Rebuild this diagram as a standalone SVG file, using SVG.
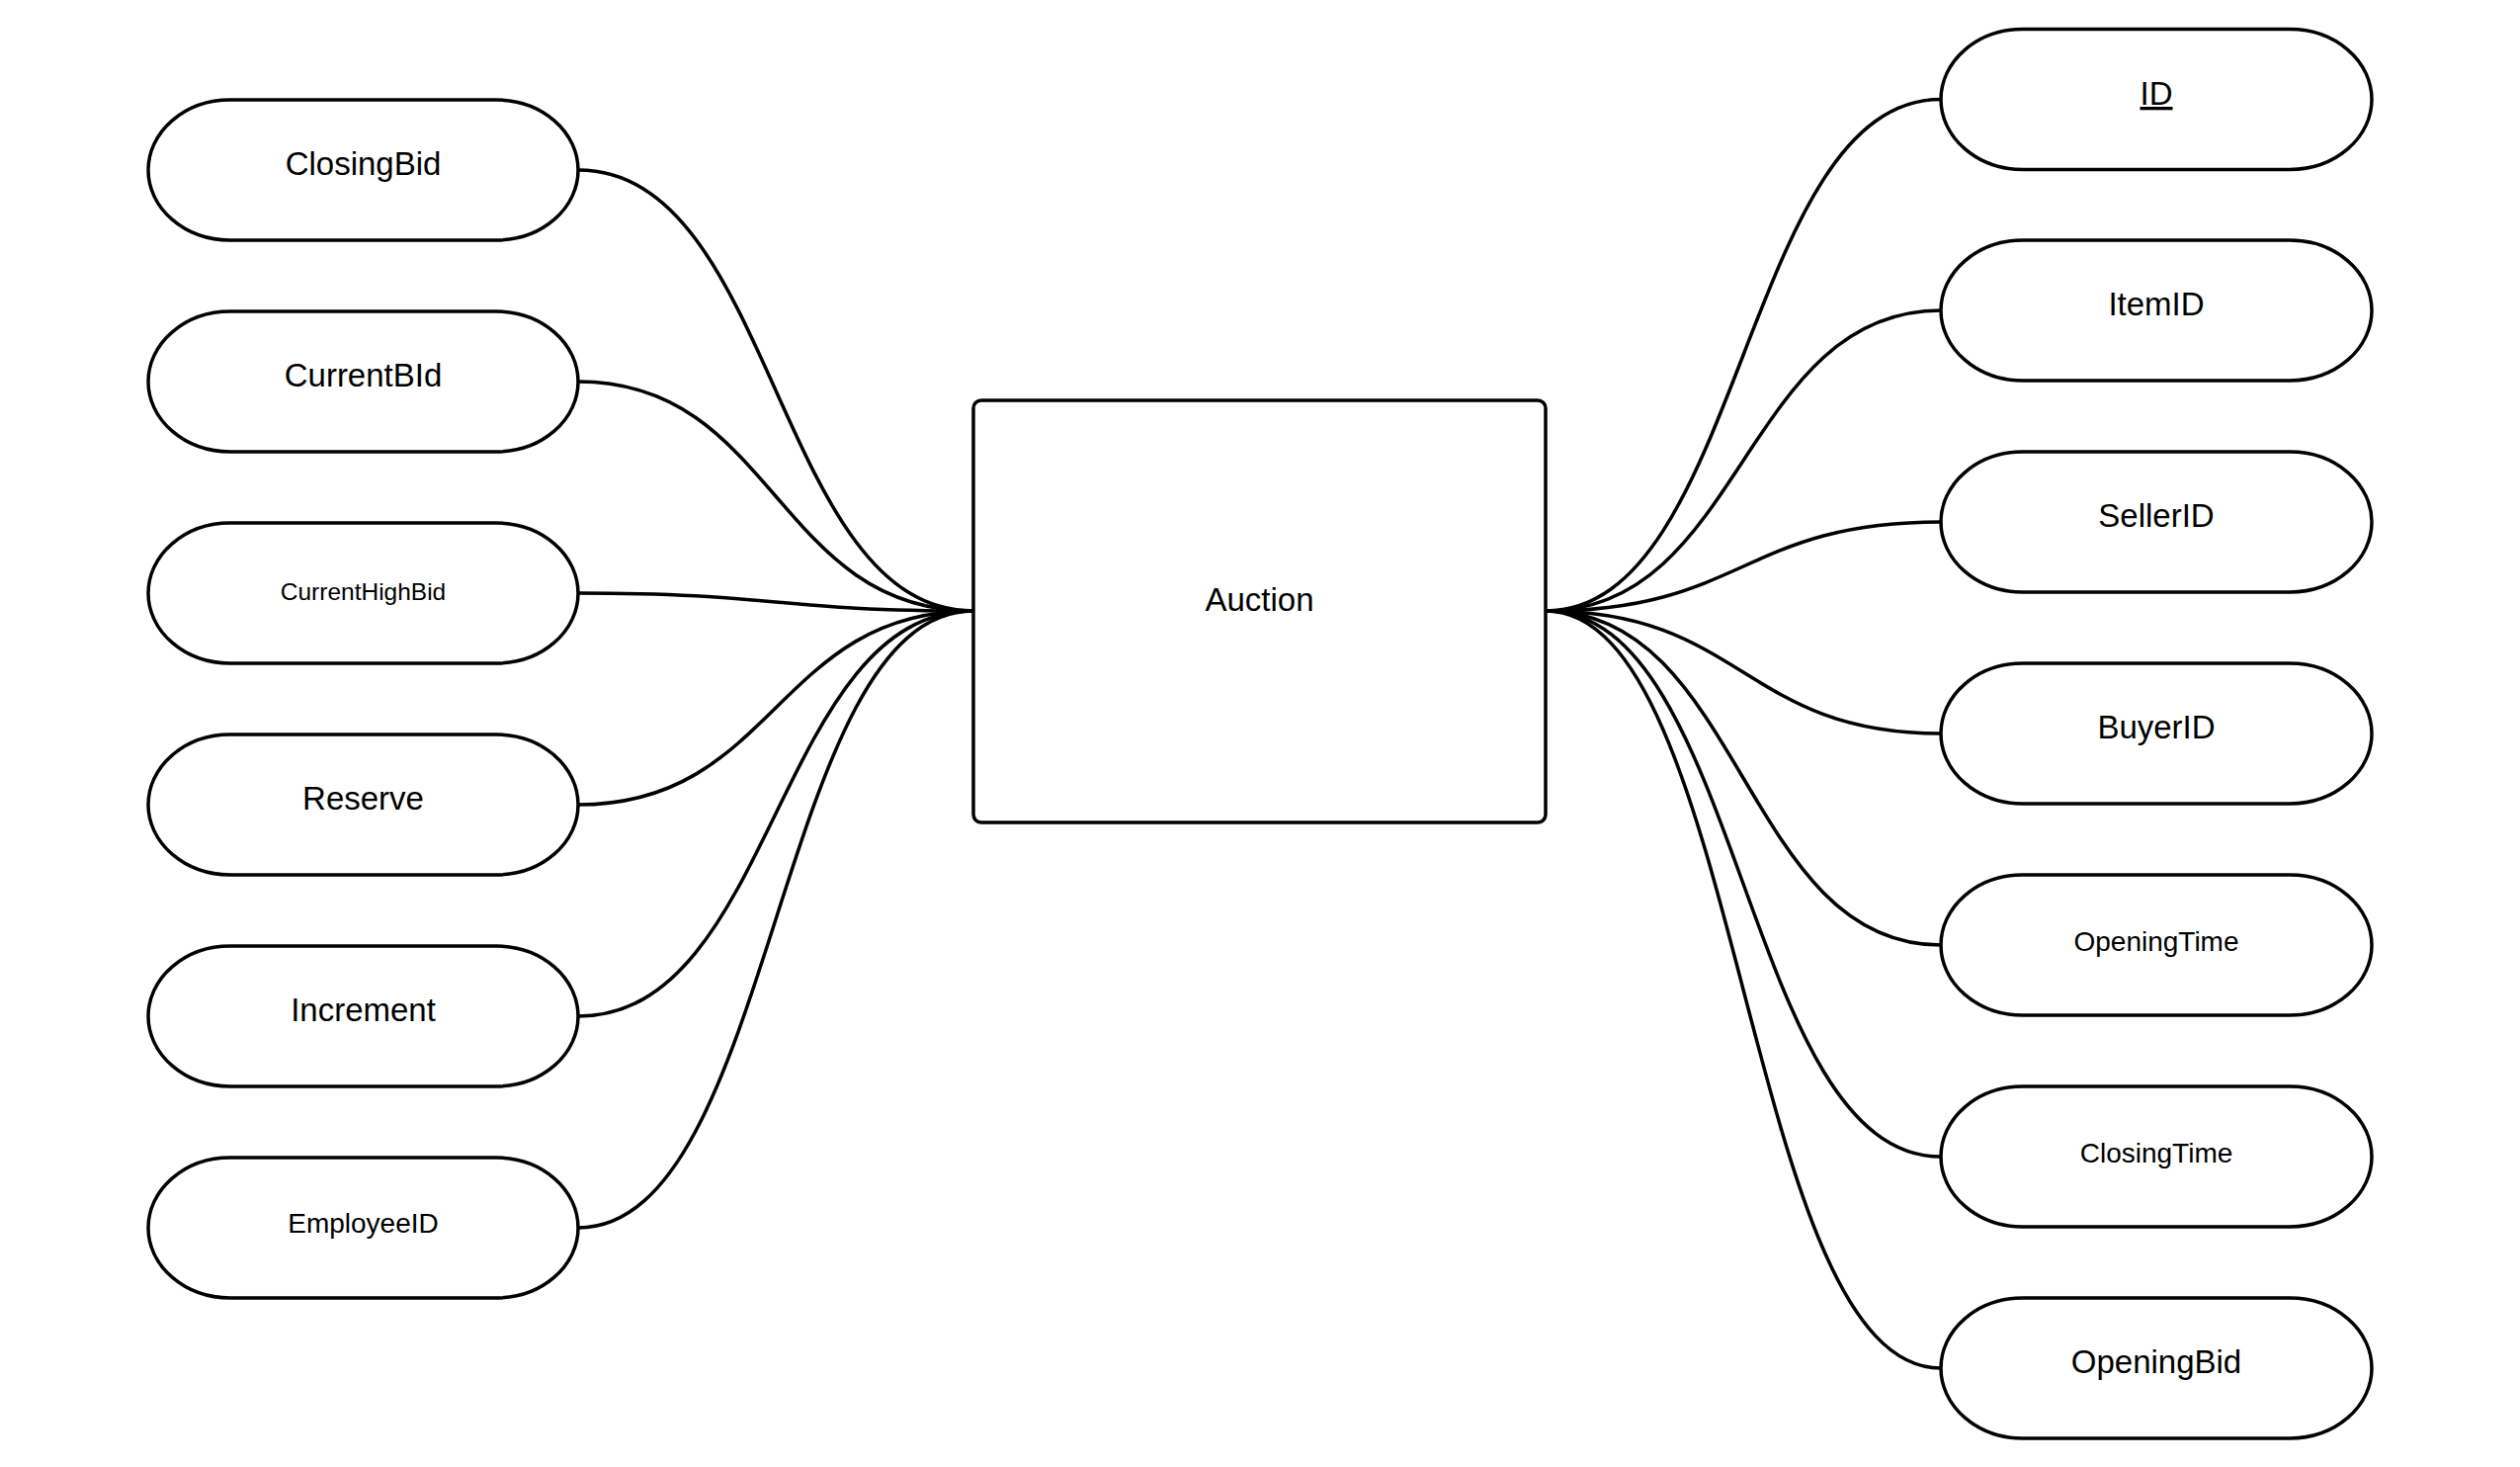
<svg xmlns="http://www.w3.org/2000/svg" width="2550" height="1484" viewBox="0 0 2550 1484">
<style>
.attr{fill:#fff;stroke:#000;stroke-width:3.5}
.ent{fill:#fff;stroke:#000;stroke-width:3.5}
.lbl{font-family:"Liberation Sans",Arial,sans-serif;fill:#000;text-anchor:middle}
.big{font-size:33px}
.mid{font-size:28px}
.sm{font-size:24.5px}
.conn path{fill:none;stroke:#000;stroke-width:3.5}
</style>
<rect width="2550" height="1484" fill="#fff"/>
<g id="connectors" class="conn">
<path d="M585,172 C785,172 785,618 985,618"/>
<path d="M585,386 C785,386 785,618 985,618"/>
<path d="M585,600 C785,600 785,618 985,618"/>
<path d="M585,814 C785,814 785,618 985,618"/>
<path d="M585,1028 C785,1028 785,618 985,618"/>
<path d="M585,1242 C785,1242 785,618 985,618"/>
<path d="M1564,618 C1764,618 1764,100.5 1964,100.5"/>
<path d="M1564,618 C1764,618 1764,314 1964,314"/>
<path d="M1564,618 C1764,618 1764,528 1964,528"/>
<path d="M1564,618 C1764,618 1764,742 1964,742"/>
<path d="M1564,618 C1764,618 1764,956 1964,956"/>
<path d="M1564,618 C1764,618 1764,1170 1964,1170"/>
<path d="M1564,618 C1764,618 1764,1384 1964,1384"/>
</g>
<g id="auction">
<rect class="ent" x="985" y="405" width="579" height="427" rx="8" ry="8"/>
<text class="lbl big" x="1274.5" y="618">Auction</text>
</g>
<g id="closingbid">
<rect class="attr" x="150" y="101" width="435" height="142" rx="83" ry="71"/>
<text class="lbl big" x="367.5" y="177">ClosingBid</text>
</g>
<g id="currentbid">
<rect class="attr" x="150" y="315" width="435" height="142" rx="83" ry="71"/>
<text class="lbl big" x="367.5" y="391">CurrentBId</text>
</g>
<g id="currenthighbid">
<rect class="attr" x="150" y="529" width="435" height="142" rx="83" ry="71"/>
<text class="lbl sm" x="367.5" y="606.5">CurrentHighBid</text>
</g>
<g id="reserve">
<rect class="attr" x="150" y="743" width="435" height="142" rx="83" ry="71"/>
<text class="lbl big" x="367.5" y="819">Reserve</text>
</g>
<g id="increment">
<rect class="attr" x="150" y="957" width="435" height="142" rx="83" ry="71"/>
<text class="lbl big" x="367.5" y="1033">Increment</text>
</g>
<g id="employeeid">
<rect class="attr" x="150" y="1171" width="435" height="142" rx="83" ry="71"/>
<text class="lbl mid" x="367.5" y="1247">EmployeeID</text>
</g>
<g id="id">
<rect class="attr" x="1964" y="29.5" width="436" height="142" rx="83" ry="71"/>
<text class="lbl big" x="2182" y="106" text-decoration="underline">ID</text>
</g>
<g id="itemid">
<rect class="attr" x="1964" y="243" width="436" height="142" rx="83" ry="71"/>
<text class="lbl big" x="2182" y="319">ItemID</text>
</g>
<g id="sellerid">
<rect class="attr" x="1964" y="457" width="436" height="142" rx="83" ry="71"/>
<text class="lbl big" x="2182" y="533">SellerID</text>
</g>
<g id="buyerid">
<rect class="attr" x="1964" y="671" width="436" height="142" rx="83" ry="71"/>
<text class="lbl big" x="2182" y="747">BuyerID</text>
</g>
<g id="openingtime">
<rect class="attr" x="1964" y="885" width="436" height="142" rx="83" ry="71"/>
<text class="lbl mid" x="2182" y="961.5">OpeningTime</text>
</g>
<g id="closingtime">
<rect class="attr" x="1964" y="1099" width="436" height="142" rx="83" ry="71"/>
<text class="lbl mid" x="2182" y="1175.5">ClosingTime</text>
</g>
<g id="openingbid">
<rect class="attr" x="1964" y="1313" width="436" height="142" rx="83" ry="71"/>
<text class="lbl big" x="2182" y="1389">OpeningBid</text>
</g>
</svg>
